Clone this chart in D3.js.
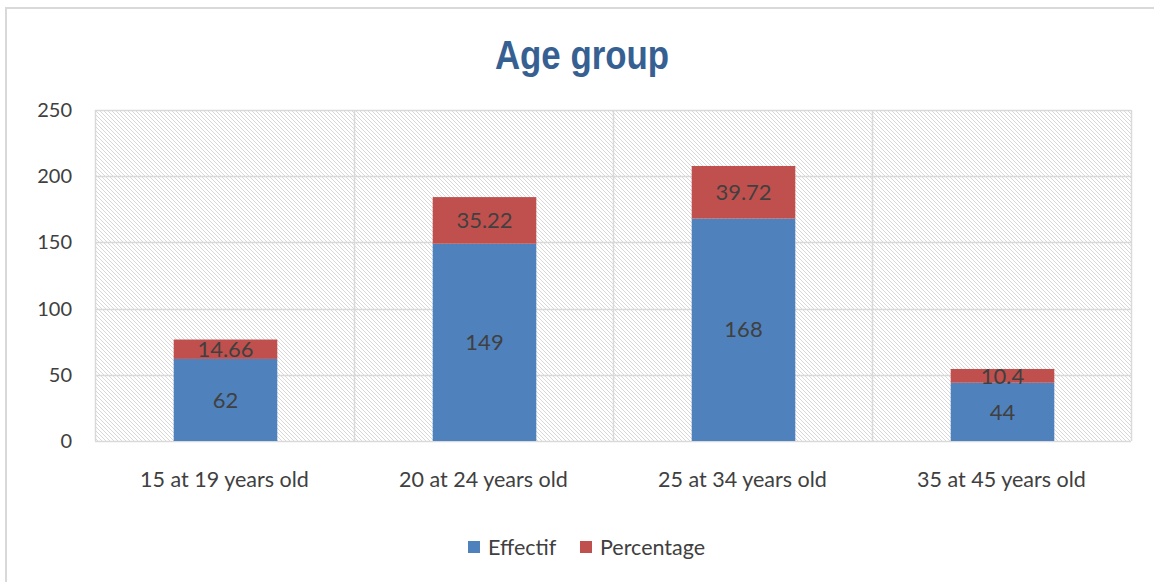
<!DOCTYPE html>
<html>
<head>
<meta charset="utf-8">
<script src="https://cdn.jsdelivr.net/npm/d3@7"></script>
<style>
  body { margin: 0; background: #fff; }
  svg text { font-family: Lato, "Open Sans", sans-serif; fill: #404040; }
</style>
</head>
<body>
<svg id="chart"></svg>
<script>
// chart data
var categories = ["15 at 19 years old", "20 at 24 years old", "25 at 34 years old", "35 at 45 years old"];
var effectif = [62, 149, 168, 44];
var percentage = [14.66, 35.22, 39.72, 10.4];
var yTicks = [0, 50, 100, 150, 200, 250];
var seriesNames = ["Effectif", "Percentage"];
var colors = ["#4f81bd", "#c0504d"];

var W = 1154, H = 582;
var margin = {top: 110, right: 23, bottom: 141, left: 95},
    width = W - margin.left - margin.right,
    height = H - margin.top - margin.bottom;

var svg = d3.select("#chart").attr("width", W).attr("height", H);

// outer chart frame (runs past the right/bottom edge)
svg.append("rect")
  .attr("x", 6).attr("y", 8)
  .attr("width", W + 20).attr("height", H + 20)
  .attr("fill", "none").attr("stroke", "#d9d9d9").attr("stroke-width", 2);

// hatch pattern for the plot area
var defs = svg.append("defs");
var pat = defs.append("pattern")
  .attr("id", "hatch")
  .attr("patternUnits", "userSpaceOnUse")
  .attr("width", 4).attr("height", 4);
pat.append("rect").attr("width", 4).attr("height", 4).attr("fill", "#fff");
pat.append("path")
  .attr("d", "M-1,-1 L5,5 M-1,3 L1,5 M3,-1 L5,1")
  .attr("stroke", "#d8d8d8").attr("stroke-width", 1);

// title (squeezed horizontally to look like a narrow bold face)
svg.append("text")
  .attr("transform", "translate(582,69) scale(0.85,1)")
  .attr("text-anchor", "middle")
  .style("font-family", "'Liberation Sans', Arial, sans-serif")
  .style("font-weight", "bold")
  .style("font-size", "41px")
  .style("fill", "#376092")
  .text("Age group");

var g = svg.append("g")
  .attr("transform", "translate(" + margin.left + "," + margin.top + ")");

var x = d3.scaleBand().domain(categories).range([0, width]).paddingInner(0.6).paddingOuter(0.3);
var xCat = d3.scaleBand().domain(categories).range([0, width]);
var y = d3.scaleLinear().domain([0, 250]).range([height, 0]);

g.append("rect")
  .attr("width", width).attr("height", height)
  .attr("fill", "url(#hatch)");

// horizontal gridlines
g.selectAll(".hgrid")
  .data(yTicks)
  .enter().append("line")
  .attr("x1", 0).attr("x2", width)
  .attr("y1", function(d) { return Math.round(y(d)) + 0.5; })
  .attr("y2", function(d) { return Math.round(y(d)) + 0.5; })
  .attr("stroke", "#d9d9d9").attr("stroke-width", 1.5);

// vertical category dividers
g.selectAll(".vgrid")
  .data(d3.range(categories.length + 1))
  .enter().append("line")
  .attr("x1", function(i) { return Math.round(i * xCat.step()) + 0.5; })
  .attr("x2", function(i) { return Math.round(i * xCat.step()) + 0.5; })
  .attr("y1", 0).attr("y2", height)
  .attr("stroke", "#d9d9d9").attr("stroke-width", 1.5);

// y axis labels
var yAxis = g.append("g")
  .attr("transform", "translate(-10,0)")
  .call(d3.axisLeft(y).tickValues(yTicks).tickSize(0).tickPadding(13));
yAxis.select(".domain").remove();
yAxis.selectAll("text")
  .style("font-family", "Lato, 'Open Sans', sans-serif")
  .style("font-size", "20px").attr("fill", "#404040");

// x axis labels
var xAxis = g.append("g")
  .attr("transform", "translate(0," + height + ")")
  .call(d3.axisBottom(xCat).tickSize(0).tickPadding(31));
xAxis.select(".domain").remove();
xAxis.selectAll("text")
  .style("font-family", "Lato, 'Open Sans', sans-serif")
  .style("font-size", "21.5px").attr("fill", "#404040");

// stacked bars
var rows = categories.map(function(c, i) { return {cat: c, e: effectif[i], p: percentage[i]}; });

g.selectAll(".barE")
  .data(rows)
  .enter().append("rect")
  .attr("x", function(d) { return x(d.cat) + 1; })
  .attr("width", x.bandwidth())
  .attr("y", function(d) { return y(d.e); })
  .attr("height", function(d) { return y(0) - y(d.e); })
  .attr("fill", colors[0]);

g.selectAll(".barP")
  .data(rows)
  .enter().append("rect")
  .attr("x", function(d) { return x(d.cat) + 1; })
  .attr("width", x.bandwidth())
  .attr("y", function(d) { return y(d.e + d.p); })
  .attr("height", function(d) { return y(d.e) - y(d.e + d.p); })
  .attr("fill", colors[1]);

// value labels
g.selectAll(".lblE")
  .data(rows)
  .enter().append("text")
  .attr("x", function(d) { return x(d.cat) + 1 + x.bandwidth() / 2; })
  .attr("y", function(d) { return y(d.e / 2); })
  .attr("dy", "0.35em")
  .attr("text-anchor", "middle")
  .style("font-size", "22px")
  .text(function(d) { return d.e; });

g.selectAll(".lblP")
  .data(rows)
  .enter().append("text")
  .attr("x", function(d) { return x(d.cat) + 1 + x.bandwidth() / 2; })
  .attr("y", function(d) { return y(d.e + d.p / 2); })
  .attr("dy", "0.35em")
  .attr("text-anchor", "middle")
  .style("font-size", "22px")
  .text(function(d) { return d.p; });

// legend
var legend = svg.append("g").attr("transform", "translate(468,547)");
var lx = [0, 112];
seriesNames.forEach(function(n, i) {
  legend.append("rect")
    .attr("x", lx[i]).attr("y", -6)
    .attr("width", 12).attr("height", 12)
    .attr("fill", colors[i]);
  legend.append("text")
    .attr("x", lx[i] + 20).attr("y", 0)
    .attr("dy", "0.35em")
    .style("font-size", "21.5px")
    .text(n);
});
</script>
</body>
</html>
